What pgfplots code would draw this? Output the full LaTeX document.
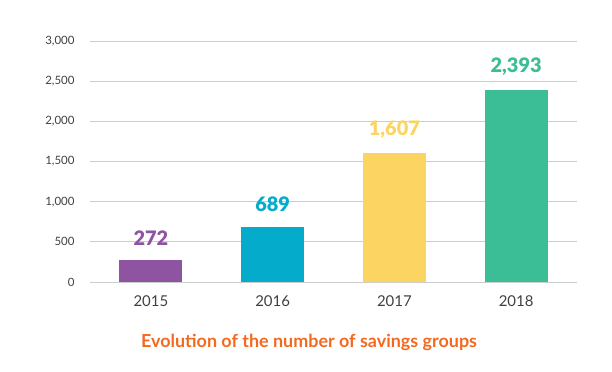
\documentclass[border=0pt]{standalone}
\usepackage{fontspec}
\setmainfont{Lato}
\IfFontExistsTF{Lato Black}{\newfontfamily\valfont{Lato Black}}{\newfontfamily\valfont{Lato}[UprightFont=*-Bold]}
\usepackage{pgfplots}
\pgfplotsset{compat=1.18}
\definecolor{cpurple}{HTML}{8E54A2}
\definecolor{cteal}{HTML}{05ABCB}
\definecolor{cyellow}{HTML}{FCD462}
\definecolor{cgreen}{HTML}{3BBD95}
\definecolor{corange}{HTML}{F5691F}
\definecolor{gridgray}{HTML}{CCCCCC}
\definecolor{tickgray}{HTML}{404040}
\begin{document}
\begin{tikzpicture}[x=1bp,y=1bp]
\path[use as bounding box] (0,0) rectangle (612,371);
\begin{axis}[
  at={(90bp,89bp)}, anchor=south west,
  scale only axis, width=487bp, height=241bp,
  xmin=-0.5, xmax=3.5, ymin=0, ymax=3000,
  ytick={0,500,...,3000},
  xtick={0,1,2,3}, xticklabels={2015,2016,2017,2018},
  axis line style={draw=none},
  ymajorgrids, grid style={draw=gridgray, line width=0.8bp},
  major tick length=0pt, tick style={draw=none},
  /pgf/number format/assume math mode=true,
  /pgf/number format/1000 sep={,},
  scaled y ticks=false,
  yticklabel style={font=\fontsize{11.5}{13}\selectfont, text=tickgray, xshift=-12bp},
  xticklabel style={font=\fontsize{15}{17}\selectfont, text=tickgray, yshift=-10bp},
  ybar, bar width=63bp,
  nodes near coords,
  every node near coord/.append style={font=\fontsize{20}{24}\valfont, anchor=south, yshift=11bp},
  clip=false,
]
\addplot[fill=cpurple, draw=none, bar shift=0pt, every node near coord/.append style={text=cpurple}] coordinates {(0,272)};
\addplot[fill=cteal, draw=none, bar shift=0pt, every node near coord/.append style={text=cteal}] coordinates {(1,689)};
\addplot[fill=cyellow, draw=none, bar shift=0pt, every node near coord/.append style={text=cyellow}] coordinates {(2,1607)};
\addplot[fill=cgreen, draw=none, bar shift=0pt, every node near coord/.append style={text=cgreen}] coordinates {(3,2393)};
\end{axis}
\node[text=corange, font=\fontsize{18}{21}\selectfont\bfseries] at (309,29) {Evolution of the number of savings groups};
\end{tikzpicture}
\end{document}
